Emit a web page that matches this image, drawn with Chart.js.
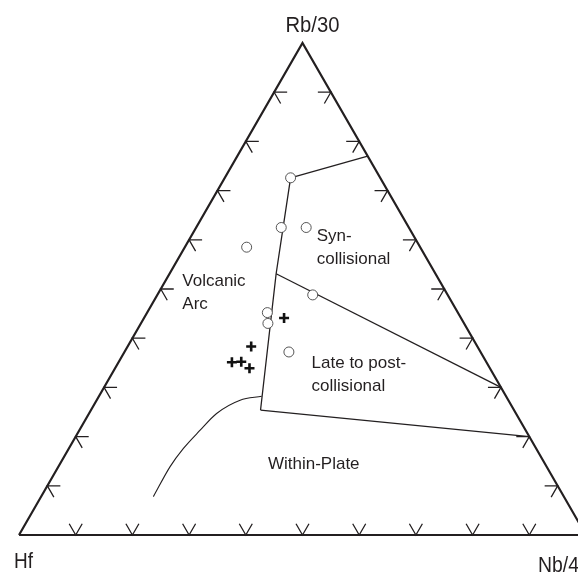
<!DOCTYPE html>
<html>
<head>
<meta charset="utf-8">
<script src="https://cdn.jsdelivr.net/npm/chart.js@4.4.0/dist/chart.umd.min.js"></script>
<style>
  html, body { margin: 0; padding: 0; background: #fff; }
  canvas { display: block; }
</style>
</head>
<body>
<canvas id="tern" width="578" height="577"></canvas>
<script>
// compositions as [Rb/30, Hf, Nb/4] fractions
const samplesCircle = [
  [0.726, 0.158, 0.116],
  [0.625, 0.225, 0.150],
  [0.625, 0.181, 0.194],
  [0.585, 0.306, 0.109],
  [0.488, 0.238, 0.274],
  [0.452, 0.336, 0.212],
  [0.430, 0.346, 0.224],
  [0.372, 0.338, 0.290],
];
const samplesPlus = [
  [0.441, 0.312, 0.247],
  [0.383, 0.399, 0.218],
  [0.351, 0.449, 0.200],
  [0.352, 0.432, 0.216],
  [0.339, 0.424, 0.237],
];

// field boundaries
const synTop     = [[0.726, 0.158, 0.116], [0.770, 0.000, 0.230]];
const arcBorder  = [[0.726, 0.158, 0.116], [0.531, 0.281, 0.188], [0.254, 0.447, 0.299]];
const synLate    = [[0.531, 0.281, 0.188], [0.300, 0.000, 0.700]];
const lateWithin = [[0.254, 0.447, 0.299], [0.200, 0.000, 0.800]];
// within-plate curve, listed from its lower end up to the arc border
const wpCurve = [
  [0.078, 0.724, 0.198],
  [0.139, 0.664, 0.197],
  [0.176, 0.622, 0.202],
  [0.213, 0.574, 0.213],
  [0.247, 0.528, 0.225],
  [0.274, 0.473, 0.253],
  [0.282, 0.431, 0.287],
];
const outline = [[0, 1, 0], [0, 0, 1], [1, 0, 0], [0, 1, 0]];

const tickFractions = [0.1, 0.2, 0.3, 0.4, 0.5, 0.6, 0.7, 0.8, 0.9];
const apexNames  = ['Rb/30', 'Hf', 'Nb/4'];
const fieldNames = [['Syn-', 'collisional'], ['Volcanic', 'Arc'], ['Late to post-', 'collisional'], ['Within-Plate']];

// ternary -> plot coords (x across the base, y = Rb fraction)
function tern(p) {
  const s = p[0] + p[1] + p[2];
  const rb = p[0] / s, nb = p[2] / s;
  return { x: nb + rb / 2, y: rb };
}

const INK = '#231f20';

function lineSet(pts, width, extra) {
  return Object.assign({
    type: 'line', data: pts.map(tern), showLine: true, fill: false,
    borderColor: INK, borderWidth: width, pointRadius: 0, tension: 0, order: 2,
  }, extra || {});
}

const overlay = {
  id: 'overlay',
  afterDatasetsDraw(chart) {
    const { ctx, scales: { x, y } } = chart;
    const px = p => { const t = tern(p); return [x.getPixelForValue(t.x), y.getPixelForValue(t.y)]; };
    const L = 13, c = 0.5, s = Math.sqrt(3) / 2;

    ctx.save();
    ctx.strokeStyle = INK;
    ctx.lineWidth = 1.3;
    ctx.beginPath();
    tickFractions.forEach(f => {
      let [a, b] = px([f, 1 - f, 0]);          // left edge
      ctx.moveTo(a + L, b); ctx.lineTo(a, b); ctx.lineTo(a + L * c, b + L * s);
      [a, b] = px([f, 0, 1 - f]);              // right edge
      ctx.moveTo(a - L, b); ctx.lineTo(a, b); ctx.lineTo(a - L * c, b + L * s);
      [a, b] = px([0, 1 - f, f]);              // base
      ctx.moveTo(a - L * c, b - L * s); ctx.lineTo(a, b); ctx.lineTo(a + L * c, b - L * s);
    });
    ctx.stroke();

    // corner labels
    ctx.fillStyle = INK;
    ctx.font = '22px "Liberation Sans", Arial, sans-serif';
    ctx.textBaseline = 'alphabetic';
    let [a, b] = px([1, 0, 0]);
    ctx.textAlign = 'center';
    ctx.fillText(apexNames[0], a + 10, b - 11.5, 54);
    [a, b] = px([0, 1, 0]);
    ctx.textAlign = 'left';
    ctx.fillText(apexNames[1], a - 5, b + 33, 19);
    [a, b] = px([0, 0, 1]);
    ctx.fillText(apexNames[2], a - 48, b + 37, 41);

    // field labels
    const anchors = [
      [0.608, 0.171, 0.221],
      [0.516, 0.454, 0.030],
      [0.348, 0.310, 0.342],
      [0.144, 0.489, 0.367],
    ];
    ctx.font = '17px "Liberation Sans", Arial, sans-serif';
    ctx.textBaseline = 'middle';
    fieldNames.forEach((lines, i) => {
      const [fx, fy] = px(anchors[i]);
      lines.forEach((t, j) => ctx.fillText(t, fx, fy + j * 23));
    });
    ctx.restore();
  },
};

new Chart(document.getElementById('tern'), {
  type: 'scatter',
  data: {
    datasets: [
      {
        data: samplesCircle.map(tern), pointStyle: 'circle', pointRadius: 5,
        backgroundColor: '#ffffff', borderColor: '#444444', borderWidth: 0.9, order: 0,
      },
      {
        data: samplesPlus.map(tern), pointStyle: 'cross', pointRadius: 5,
        borderColor: '#111111', borderWidth: 2.6, order: 0,
      },
      lineSet(outline, 2.2),
      lineSet(synTop, 1.3),
      lineSet(arcBorder, 1.3),
      lineSet(synLate, 1.3),
      lineSet(lateWithin, 1.3),
      lineSet(wpCurve, 1.1, { cubicInterpolationMode: 'monotone' }),
    ],
  },
  options: {
    responsive: false,
    animation: false,
    events: [],
    layout: { padding: 0, autoPadding: false },
    plugins: { legend: { display: false }, tooltip: { enabled: false } },
    scales: {
      x: { type: 'linear', display: false, min: -19 / 567, max: 559 / 567 },
      y: { type: 'linear', display: false, min: -42 / 492, max: 535 / 492 },
    },
  },
  plugins: [overlay],
});
</script>
</body>
</html>
